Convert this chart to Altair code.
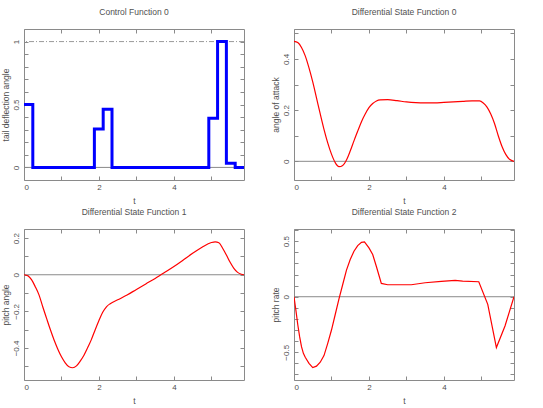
import altair as alt
import pandas as pd

T_END = 5.87

# Control Function 0 (piecewise constant, step-after)
ctrl_t = [0.0, 0.235, 1.878, 2.113, 2.348, 4.931, 5.165, 5.400, 5.635, 5.87]
ctrl_u = [0.5, 0.0, 0.305, 0.463, 0.0, 0.39, 1.0, 0.034, 0.0, 0.0]

# Differential State Function 0 (angle of attack)
s0_t = [0, 0.1, 0.2, 0.3, 0.4, 0.5, 0.6, 0.7, 0.8, 0.9, 1.0, 1.1, 1.2, 1.3, 1.4, 1.5,
        1.6, 1.7, 1.8, 1.9, 2.0, 2.1, 2.2, 2.3, 2.5, 2.75, 3.0, 3.25, 3.5, 3.75, 4.0,
        4.25, 4.5, 4.75, 4.95, 5.05, 5.15, 5.25, 5.35, 5.45, 5.55, 5.65, 5.75, 5.87]
s0_v = [0.469, 0.464, 0.445, 0.412, 0.365, 0.31, 0.248, 0.185, 0.125, 0.072, 0.028,
        -0.005, -0.021, -0.016, 0.005, 0.04, 0.08, 0.118, 0.155, 0.185, 0.21, 0.226,
        0.236, 0.24, 0.241, 0.237, 0.232, 0.229, 0.228, 0.228, 0.230, 0.232, 0.234,
        0.236, 0.236, 0.228, 0.212, 0.185, 0.148, 0.1, 0.058, 0.027, 0.008, 0.0]

# Differential State Function 1 (pitch angle)
s1_t = [0, 0.1, 0.2, 0.3, 0.4, 0.5, 0.6, 0.7, 0.8, 0.9, 1.0, 1.1, 1.2, 1.3, 1.4, 1.5,
        1.6, 1.7, 1.8, 1.9, 2.0, 2.1, 2.2, 2.3, 2.5, 2.75, 3.0, 3.25, 3.5, 3.75, 4.0,
        4.25, 4.5, 4.75, 5.0, 5.1, 5.2, 5.3, 5.4, 5.5, 5.6, 5.7, 5.8, 5.87]
s1_v = [0.0, -0.006, -0.027, -0.065, -0.11, -0.175, -0.237, -0.298, -0.355, -0.405,
        -0.448, -0.481, -0.503, -0.508, -0.498, -0.472, -0.44, -0.398, -0.353, -0.3,
        -0.25, -0.205, -0.175, -0.158, -0.137, -0.111, -0.08, -0.05, -0.02, 0.012,
        0.045, 0.081, 0.117, 0.15, 0.176, 0.18, 0.175, 0.145, 0.108, 0.068, 0.035,
        0.013, 0.003, 0.0]

# Differential State Function 2 (pitch rate)
s2_t = [0, 0.05, 0.1, 0.15, 0.2, 0.25, 0.3, 0.4, 0.5, 0.6, 0.7, 0.8, 0.9, 1.0, 1.1,
        1.2, 1.3, 1.4, 1.5, 1.6, 1.7, 1.8, 1.88, 2.0, 2.1, 2.2, 2.33, 2.5, 3.13, 3.5,
        3.93, 4.3, 4.5, 4.93, 5.17, 5.4, 5.63, 5.87]
s2_v = [0.0, -0.12, -0.25, -0.36, -0.45, -0.51, -0.545, -0.6, -0.638, -0.625, -0.59,
        -0.53, -0.42, -0.3, -0.16, -0.02, 0.11, 0.24, 0.335, 0.41, 0.46, 0.49, 0.494,
        0.44, 0.38, 0.27, 0.12, 0.108, 0.108, 0.126, 0.138, 0.147, 0.141, 0.135,
        -0.069, -0.458, -0.263, 0.0]

x_labels = [0, 2, 4]
x_minor = [0, 1, 2, 3, 4, 5]

FONT = "Liberation Sans"
GRAY = "#8a8a8a"
TEXT = "#505050"
W, H = 220, 151


def panel(t, v, title, ytitle, ydom, ylabels, yminor, color, lw, interp, bound=None):
    df = pd.DataFrame({"t": t, "v": v})
    xs = alt.Scale(domain=[0, T_END], nice=False, zero=False)
    ys = alt.Scale(domain=ydom, nice=False, zero=False)
    base = alt.Chart(df)

    zero = alt.Chart(pd.DataFrame({"y": [0.0]})).mark_rule(
        color=GRAY, strokeWidth=1).encode(
        y=alt.Y("y:Q", scale=ys, axis=None))
    layers = [zero]
    if bound is not None:
        bl = alt.Chart(pd.DataFrame({"y": [bound]})).mark_rule(
            color="#999999", strokeWidth=1, strokeDash=[5, 2, 1, 2]).encode(
            y=alt.Y("y:Q", scale=ys, axis=None))
        layers.append(bl)

    line = base.mark_line(color=color, strokeWidth=lw, interpolate=interp,
                          clip=True).encode(
        x=alt.X("t:Q", scale=xs, title="t",
                axis=alt.Axis(values=x_labels, ticks=False, domain=False,
                              grid=False, labelPadding=3, titlePadding=5,
                              format="~g")),
        y=alt.Y("v:Q", scale=ys, title=ytitle,
                axis=alt.Axis(values=ylabels, ticks=False, domain=False,
                              grid=False, labelAngle=270, labelAlign="center",
                              labelBaseline="bottom", labelPadding=4,
                              titlePadding=2, format="~g")),
    )
    layers.append(line)

    def tick_layer(xo, yo):
        return base.mark_line(strokeOpacity=0).encode(
            x=alt.X("t:Q", scale=xs, title=None,
                    axis=alt.Axis(orient=xo, values=x_minor, labels=False,
                                  domain=False, grid=False, ticks=True,
                                  tickSize=4, offset=-4, tickColor=GRAY)),
            y=alt.Y("v:Q", scale=ys, title=None,
                    axis=alt.Axis(orient=yo, values=yminor, labels=False,
                                  domain=False, grid=False, ticks=True,
                                  tickSize=4, offset=-4, tickColor=GRAY)),
        )

    layers.append(tick_layer("bottom", "left"))
    layers.append(tick_layer("top", "right"))

    return alt.layer(*layers).resolve_axis(x="independent", y="independent").properties(
        width=W, height=H,
        title=alt.TitleParams(title, fontSize=8.5, font=FONT, color=TEXT,
                              fontWeight="normal", offset=12, frame="group",
                              anchor="middle"),
    )


def rng(a, b, step):
    out = []
    k = 0
    while True:
        val = round(a + k * step, 4)
        if val > b + 1e-9:
            break
        out.append(val)
        k += 1
    return out


p1 = panel(ctrl_t, ctrl_u, "Control Function 0", "tail deflection angle",
           [-0.1, 1.1], [0, 0.5, 1], rng(0, 1.0, 0.1), "#0000ff", 3,
           "step-after", bound=1.0)
p2 = panel(s0_t, s0_v, "Differential State Function 0", "angle of attack",
           [-0.073, 0.517], [0, 0.2, 0.4], rng(0, 0.5, 0.1), "#ff0000", 1.2,
           "monotone")
p3 = panel(s1_t, s1_v, "Differential State Function 1", "pitch angle",
           [-0.575, 0.25], [-0.4, -0.2, 0, 0.2], rng(-0.5, 0.2, 0.1), "#ff0000",
           1.2, "monotone")
p4 = panel(s2_t, s2_v, "Differential State Function 2", "pitch rate",
           [-0.75, 0.61], [-0.5, 0, 0.5], rng(-0.7, 0.6, 0.1), "#ff0000", 1.2,
           "linear")

chart = alt.vconcat(
    alt.hconcat(p1, p2, spacing=25),
    alt.hconcat(p3, p4, spacing=25),
    spacing=2,
).properties(
    padding={"left": 0, "top": 7, "right": 5, "bottom": 2},
    background="white",
).configure_view(
    stroke=GRAY, strokeWidth=1
).configure_axis(
    labelFont=FONT, labelFontSize=8, labelColor=TEXT,
    titleFont=FONT, titleFontSize=8.5, titleFontWeight="normal", titleColor=TEXT,
)

chart.save("out.html", embed_options={"renderer": "svg", "actions": False})
